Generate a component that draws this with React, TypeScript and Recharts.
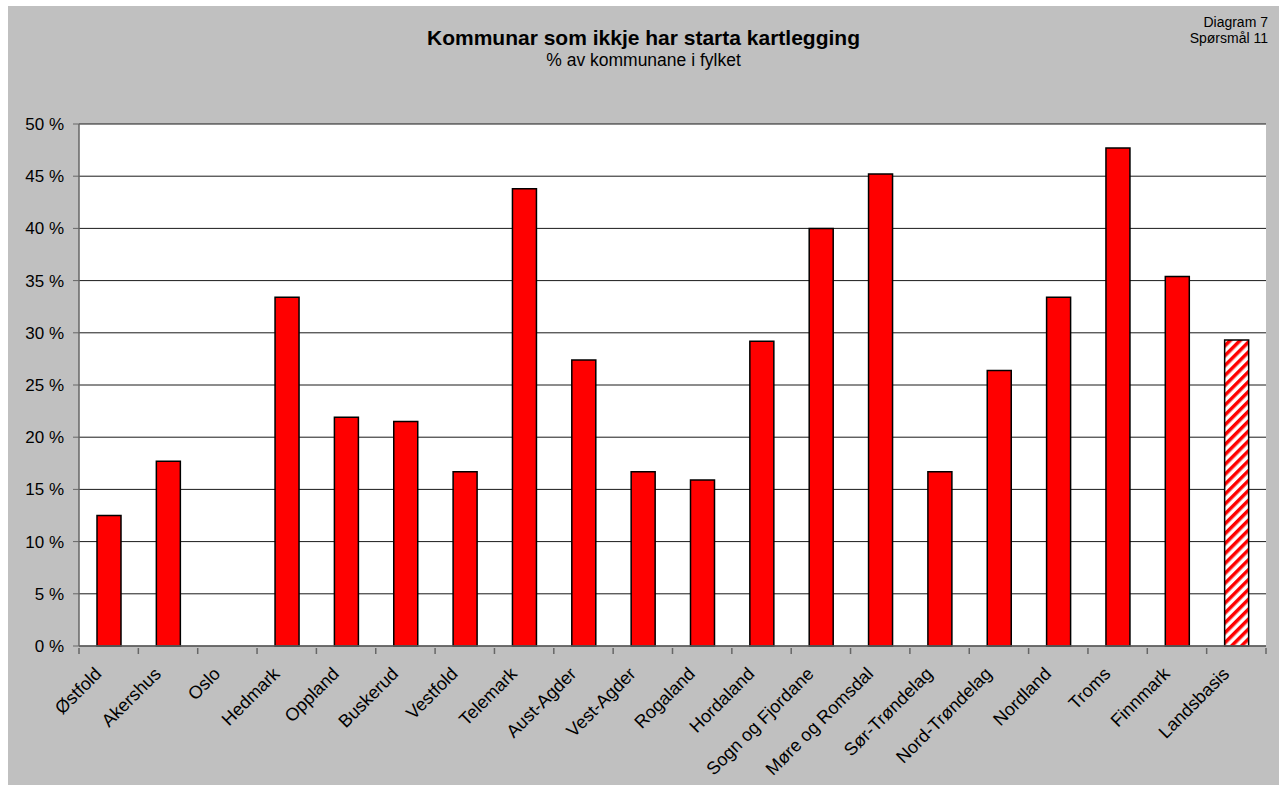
import { BarChart, Bar, XAxis, YAxis, CartesianGrid, Cell } from 'recharts';

const categories = [
  'Østfold', 'Akershus', 'Oslo', 'Hedmark', 'Oppland', 'Buskerud', 'Vestfold',
  'Telemark', 'Aust-Agder', 'Vest-Agder', 'Rogaland', 'Hordaland',
  'Sogn og Fjordane', 'Møre og Romsdal', 'Sør-Trøndelag', 'Nord-Trøndelag',
  'Nordland', 'Troms', 'Finnmark', 'Landsbasis',
];

const values = [
  12.5, 17.7, 0, 33.4, 21.9, 21.5, 16.7, 43.8, 27.4, 16.7, 15.9, 29.2,
  40.0, 45.2, 16.7, 26.4, 33.4, 47.7, 35.4, 29.3,
];

const yTicks = [0, 5, 10, 15, 20, 25, 30, 35, 40, 45, 50];

const data = categories.map((name, i) => ({ name, value: values[i] }));

const W = 1271;
const H = 779;
const FONT = '"Liberation Sans", Arial, sans-serif';
const PLOT_LEFT = 71;
const PLOT_RIGHT = 13;
const BAND = (W - PLOT_LEFT - PLOT_RIGHT) / categories.length;

const XTick = (props: any) => {
  const { x, y, payload, index } = props;
  const half = BAND / 2;
  const ax = x - 6;
  const ay = y + 21;
  return (
    <g>
      <line x1={x - half} y1={y - 6} x2={x - half} y2={y} stroke="#666" strokeWidth={1.5} />
      {index === categories.length - 1 && (
        <line x1={x + half} y1={y - 6} x2={x + half} y2={y} stroke="#666" strokeWidth={1.5} />
      )}
      <text
        x={ax}
        y={ay}
        transform={`rotate(-45, ${ax}, ${ay})`}
        textAnchor="end"
        fontSize={18}
        fontFamily={FONT}
        fill="#000"
      >
        {payload.value}
      </text>
    </g>
  );
};

export default function App() {
  return (
    <>
      <style>{`body{margin:0;overflow:hidden;}`}</style>
      <div style={{ margin: '6px 0 0 8px', width: W, height: H, background: '#c0c0c0', position: 'relative' }}>
        <div style={{ position: 'absolute', left: 0, top: 21, width: W, textAlign: 'center', fontFamily: FONT, color: '#000' }}>
          <div style={{ fontSize: 21, fontWeight: 'bold', lineHeight: '22px' }}>Kommunar som ikkje har starta kartlegging</div>
          <div style={{ fontSize: 17.5, lineHeight: '22px' }}>% av kommunane i fylket</div>
        </div>
        <div style={{ position: 'absolute', right: 11, top: 8, textAlign: 'right', fontFamily: FONT, fontSize: 14, lineHeight: '16px', color: '#000' }}>
          <div>Diagram 7</div>
          <div>Spørsmål 11</div>
        </div>
        <BarChart
          width={W}
          height={H}
          data={data}
          margin={{ top: 118, right: PLOT_RIGHT, bottom: 9, left: 0 }}
          barSize={24}
          style={{ position: 'absolute', left: 0, top: 0 }}
        >
          <defs>
            <pattern id="hatch" width="7" height="7" patternUnits="userSpaceOnUse" patternTransform="rotate(45)">
              <rect width="7" height="7" fill="#fff" />
              <rect width="3.5" height="7" fill="#ff0000" />
            </pattern>
          </defs>
          <CartesianGrid vertical={false} stroke="#1a1a1a" fill="#fff" fillOpacity={1} />
          <XAxis
            dataKey="name"
            height={130}
            interval={0}
            tick={<XTick />}
            tickLine={false}
            axisLine={{ stroke: '#666', strokeWidth: 1.5 }}
          />
          <YAxis
            width={PLOT_LEFT}
            domain={[0, 50]}
            ticks={yTicks}
            interval={0}
            tickFormatter={(v: number) => `${v} %`}
            tick={{ fontSize: 17, fontFamily: FONT, fill: '#000' }}
            tickSize={6}
            tickMargin={9}
            tickLine={{ stroke: '#666' }}
            axisLine={{ stroke: '#666', strokeWidth: 1.5 }}
          />
          <YAxis
            yAxisId="right"
            orientation="right"
            width={0}
            domain={[0, 50]}
            tick={false}
            tickLine={false}
            axisLine={{ stroke: '#808080', strokeWidth: 1.5 }}
          />
          <Bar dataKey="value" stroke="#000" strokeWidth={1.5} isAnimationActive={false}>
            {data.map((d) => (
              <Cell key={d.name} fill={d.name === 'Landsbasis' ? 'url(#hatch)' : '#ff0000'} />
            ))}
          </Bar>
        </BarChart>
      </div>
    </>
  );
}
